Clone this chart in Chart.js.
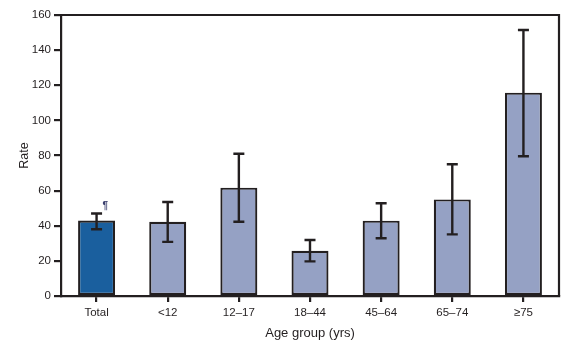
<!DOCTYPE html>
<html>
<head>
<meta charset="utf-8">
<script src="https://cdn.jsdelivr.net/npm/chart.js@4/dist/chart.umd.min.js"></script>
<style>
  html, body { margin: 0; padding: 0; background: #fff; }
  canvas { display: block; }
</style>
</head>
<body>
<canvas id="rateChart" width="585" height="343"></canvas>
<script>
// age groups and rates
const categories = ['Total', '<12', '12\u201317', '18\u201344', '45\u201364', '65\u201374', '\u226575'];
const rates = [43, 42.3, 61.7, 25.8, 42.9, 55, 115.8];
const lowerCI = [38, 30.8, 42.3, 19.7, 32.9, 35.1, 79.6];
const upperCI = [47, 53.5, 81, 31.9, 52.8, 75, 151.5];
const yTicks = [0, 20, 40, 60, 80, 100, 120, 140, 160];

const ink = '#231f20';
const barColors = categories.map((c, i) => i === 0 ? '#1a5f9e' : '#95a1c4');

// draws the confidence interval whiskers and the footnote mark
const errorBars = {
    id: 'errorBars',
    afterDatasetsDraw(chart) {
        const ctx = chart.ctx;
        const y = chart.scales.y;
        const meta = chart.getDatasetMeta(0);
        ctx.save();
        ctx.strokeStyle = ink;
        ctx.lineWidth = 2.4;
        meta.data.forEach((bar, i) => {
            const x = bar.x;
            const yLo = y.getPixelForValue(lowerCI[i]);
            const yHi = y.getPixelForValue(upperCI[i]);
            ctx.beginPath();
            ctx.moveTo(x, yLo); ctx.lineTo(x, yHi);
            ctx.moveTo(x - 5.5, yLo); ctx.lineTo(x + 5.5, yLo);
            ctx.moveTo(x - 5.5, yHi); ctx.lineTo(x + 5.5, yHi);
            ctx.stroke();
        });
        // footnote symbol next to Total
        const b0 = meta.data[0];
        ctx.fillStyle = '#3b3f6e';
        ctx.font = 'bold 10px "Liberation Sans"';
        ctx.textAlign = 'left';
        ctx.textBaseline = 'middle';
        ctx.fillText('\u00b6', b0.x + 6, y.getPixelForValue(upperCI[0]) - 7);
        ctx.restore();
    }
};

// top and right edges of the frame
const frame = {
    id: 'frame',
    afterDraw(chart) {
        const a = chart.chartArea;
        const ctx = chart.ctx;
        ctx.save();
        ctx.strokeStyle = ink;
        ctx.lineWidth = 2.2;
        ctx.beginPath();
        ctx.moveTo(a.left, a.top);
        ctx.lineTo(a.right, a.top);
        ctx.lineTo(a.right, a.bottom);
        ctx.stroke();
        ctx.restore();
    }
};

new Chart(document.getElementById('rateChart').getContext('2d'), {
    type: 'bar',
    data: {
        labels: categories,
        datasets: [{
            data: rates,
            backgroundColor: barColors,
            borderColor: ink,
            borderWidth: 2.2,
            borderSkipped: false,
            categoryPercentage: 1,
            barPercentage: 0.52
        }]
    },
    options: {
        responsive: false,
        animation: false,
        layout: { padding: { left: 0, right: 26, top: 15, bottom: 0 } },
        plugins: { legend: { display: false }, tooltip: { enabled: false } },
        scales: {
            x: {
                grid: { offset: false, drawOnChartArea: false, tickLength: 6, color: ink, lineWidth: 2.2 },
                border: { display: true, color: ink, width: 2.2 },
                ticks: { color: ink, font: { family: 'Liberation Sans', size: 11.5 }, padding: 4 },
                title: {
                    display: true, text: 'Age group (yrs)', color: ink,
                    font: { family: 'Liberation Sans', size: 13 }, padding: { top: 0, bottom: 2 }
                },
                afterFit(scale) { scale.height = 47; }
            },
            y: {
                min: 0,
                max: 160,
                afterBuildTicks(scale) { scale.ticks = yTicks.map(v => ({ value: v })); },
                grid: { drawOnChartArea: false, tickLength: 7, color: ink, lineWidth: 2.2 },
                border: { display: true, color: ink, width: 2.2 },
                ticks: { color: ink, font: { family: 'Liberation Sans', size: 11.5 }, padding: 3 },
                title: {
                    display: true, text: 'Rate', color: ink,
                    font: { family: 'Liberation Sans', size: 12.5 }, padding: { top: 17, bottom: 0 }
                },
                afterFit(scale) { scale.width = 61; }
            }
        }
    },
    plugins: [errorBars, frame]
});
</script>
</body>
</html>
